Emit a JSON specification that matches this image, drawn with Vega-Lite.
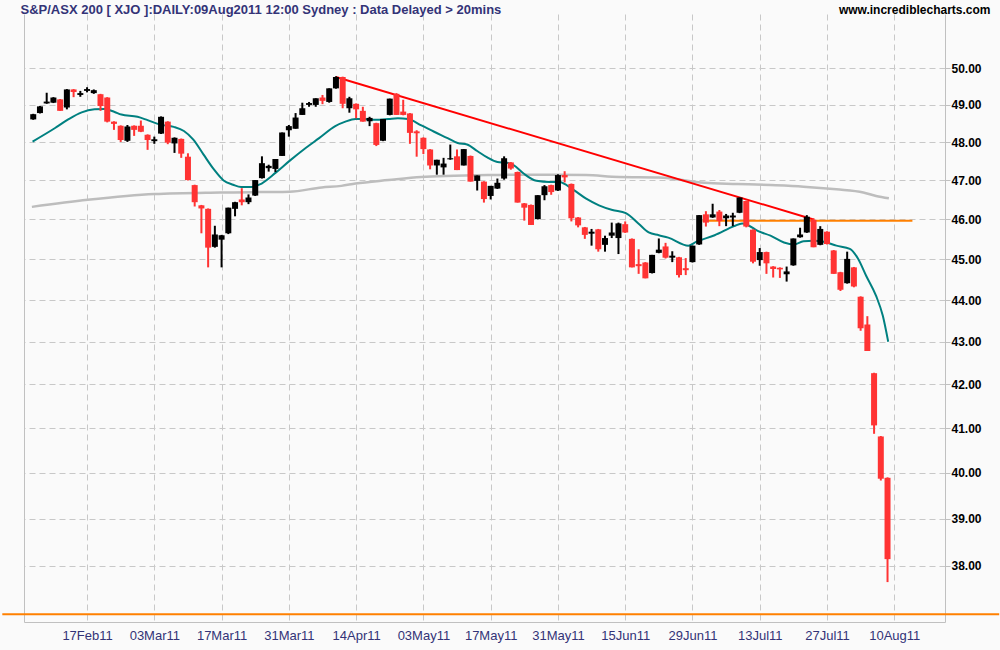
{
  "$schema": "https://vega.github.io/schema/vega-lite/v6.json",
  "width": 921,
  "height": 608,
  "autosize": {"type": "none"},
  "padding": {"left": 24, "top": 14, "right": 55, "bottom": 28},
  "background": "#fafafa",
  "config": {"view": {"stroke": null}},
  "resolve": {"axis": {"y": "independent"}},
  "datasets": {
    "candles": [
      {"i":0,"o":48.61,"h":48.76,"l":48.60,"c":48.75},
      {"i":1,"o":48.78,"h":48.97,"l":48.77,"c":48.96},
      {"i":2,"o":49.04,"h":49.33,"l":49.03,"c":49.09},
      {"i":3,"o":49.06,"h":49.21,"l":49.05,"c":49.20},
      {"i":4,"o":49.15,"h":49.16,"l":48.84,"c":48.84},
      {"i":5,"o":48.93,"h":49.43,"l":48.88,"c":49.42},
      {"i":6,"o":49.42,"h":49.43,"l":49.21,"c":49.35},
      {"i":7,"o":49.27,"h":49.38,"l":49.22,"c":49.32},
      {"i":8,"o":49.38,"h":49.48,"l":49.34,"c":49.43},
      {"i":9,"o":49.32,"h":49.42,"l":49.30,"c":49.40},
      {"i":10,"o":49.29,"h":49.30,"l":48.84,"c":48.97},
      {"i":11,"o":49.20,"h":49.21,"l":48.53,"c":48.55},
      {"i":12,"o":48.55,"h":48.56,"l":48.33,"c":48.49},
      {"i":13,"o":48.44,"h":48.45,"l":48.01,"c":48.06},
      {"i":14,"o":48.04,"h":48.46,"l":48.01,"c":48.42},
      {"i":15,"o":48.44,"h":48.45,"l":48.17,"c":48.33},
      {"i":16,"o":48.44,"h":48.58,"l":48.27,"c":48.28},
      {"i":17,"o":48.20,"h":48.21,"l":47.80,"c":48.06},
      {"i":18,"o":48.03,"h":48.15,"l":47.96,"c":48.08},
      {"i":19,"o":48.23,"h":48.69,"l":48.22,"c":48.68},
      {"i":20,"o":48.55,"h":48.56,"l":47.95,"c":47.99},
      {"i":21,"o":47.97,"h":48.13,"l":47.72,"c":48.12},
      {"i":22,"o":48.09,"h":48.10,"l":47.59,"c":47.70},
      {"i":23,"o":47.62,"h":47.71,"l":47.00,"c":47.01},
      {"i":24,"o":46.88,"h":46.89,"l":46.33,"c":46.44},
      {"i":25,"o":46.36,"h":46.37,"l":45.65,"c":46.28},
      {"i":26,"o":46.27,"h":46.28,"l":44.80,"c":45.29},
      {"i":27,"o":45.31,"h":45.84,"l":45.29,"c":45.62},
      {"i":28,"o":45.49,"h":45.61,"l":44.80,"c":45.60},
      {"i":29,"o":45.65,"h":46.30,"l":45.63,"c":46.30},
      {"i":30,"o":46.27,"h":46.45,"l":46.08,"c":46.44},
      {"i":31,"o":46.51,"h":46.80,"l":46.36,"c":46.44},
      {"i":32,"o":46.44,"h":46.64,"l":46.39,"c":46.56},
      {"i":33,"o":46.61,"h":47.01,"l":46.60,"c":47.01},
      {"i":34,"o":47.06,"h":47.63,"l":47.05,"c":47.45},
      {"i":35,"o":47.32,"h":47.41,"l":47.23,"c":47.38},
      {"i":36,"o":47.30,"h":47.56,"l":47.22,"c":47.56},
      {"i":37,"o":47.64,"h":48.26,"l":47.64,"c":48.26},
      {"i":38,"o":48.32,"h":48.46,"l":48.15,"c":48.43},
      {"i":39,"o":48.36,"h":48.78,"l":48.36,"c":48.66},
      {"i":40,"o":48.73,"h":49.06,"l":48.73,"c":48.91},
      {"i":41,"o":49.00,"h":49.08,"l":48.95,"c":49.05},
      {"i":42,"o":49.00,"h":49.18,"l":48.95,"c":49.18},
      {"i":43,"o":49.20,"h":49.27,"l":49.02,"c":49.11},
      {"i":44,"o":49.08,"h":49.45,"l":49.06,"c":49.45},
      {"i":45,"o":49.45,"h":49.78,"l":49.44,"c":49.76},
      {"i":46,"o":49.76,"h":49.77,"l":48.91,"c":49.03},
      {"i":47,"o":48.91,"h":49.22,"l":48.79,"c":49.18},
      {"i":48,"o":49.03,"h":49.04,"l":48.64,"c":48.88},
      {"i":49,"o":48.84,"h":48.95,"l":48.55,"c":48.55},
      {"i":50,"o":48.56,"h":48.68,"l":48.43,"c":48.65},
      {"i":51,"o":48.51,"h":48.52,"l":47.90,"c":47.93},
      {"i":52,"o":48.04,"h":48.62,"l":48.03,"c":48.62},
      {"i":53,"o":48.73,"h":49.17,"l":48.72,"c":49.17},
      {"i":54,"o":49.30,"h":49.32,"l":48.73,"c":48.73},
      {"i":55,"o":48.82,"h":49.14,"l":48.72,"c":48.73},
      {"i":56,"o":48.77,"h":48.78,"l":47.96,"c":48.25},
      {"i":57,"o":48.29,"h":48.32,"l":47.62,"c":48.24},
      {"i":58,"o":48.12,"h":48.13,"l":47.69,"c":47.82},
      {"i":59,"o":47.81,"h":47.82,"l":47.29,"c":47.39},
      {"i":60,"o":47.39,"h":47.54,"l":47.15,"c":47.54},
      {"i":61,"o":47.34,"h":47.59,"l":47.15,"c":47.44},
      {"i":62,"o":47.55,"h":47.94,"l":47.54,"c":47.58},
      {"i":63,"o":47.63,"h":47.81,"l":47.27,"c":47.27},
      {"i":64,"o":47.39,"h":47.82,"l":47.39,"c":47.82},
      {"i":65,"o":47.64,"h":47.65,"l":46.97,"c":46.97},
      {"i":66,"o":46.99,"h":47.13,"l":46.74,"c":47.13},
      {"i":67,"o":46.97,"h":46.98,"l":46.43,"c":46.52},
      {"i":68,"o":46.60,"h":46.86,"l":46.51,"c":46.86},
      {"i":69,"o":46.79,"h":47.05,"l":46.78,"c":46.94},
      {"i":70,"o":47.05,"h":47.63,"l":47.02,"c":47.58},
      {"i":71,"o":47.47,"h":47.48,"l":47.28,"c":47.31},
      {"i":72,"o":47.22,"h":47.23,"l":46.43,"c":46.43},
      {"i":73,"o":46.41,"h":46.42,"l":45.97,"c":46.30},
      {"i":74,"o":46.37,"h":46.38,"l":45.86,"c":45.86},
      {"i":75,"o":46.01,"h":46.62,"l":46.00,"c":46.62},
      {"i":76,"o":46.62,"h":46.88,"l":46.49,"c":46.85},
      {"i":77,"o":46.88,"h":46.89,"l":46.63,"c":46.70},
      {"i":78,"o":46.74,"h":47.16,"l":46.73,"c":47.14},
      {"i":79,"o":47.14,"h":47.24,"l":46.95,"c":47.08},
      {"i":80,"o":46.91,"h":46.92,"l":45.95,"c":46.03},
      {"i":81,"o":46.05,"h":46.06,"l":45.80,"c":45.85},
      {"i":82,"o":45.80,"h":45.81,"l":45.51,"c":45.61},
      {"i":83,"o":45.64,"h":45.76,"l":45.34,"c":45.69},
      {"i":84,"o":45.75,"h":45.76,"l":45.19,"c":45.25},
      {"i":85,"o":45.36,"h":45.59,"l":45.19,"c":45.53},
      {"i":86,"o":45.59,"h":45.92,"l":45.53,"c":45.67},
      {"i":87,"o":45.53,"h":45.92,"l":45.13,"c":45.90},
      {"i":88,"o":45.88,"h":45.95,"l":45.66,"c":45.67},
      {"i":89,"o":45.51,"h":45.52,"l":44.80,"c":44.80},
      {"i":90,"o":44.88,"h":45.25,"l":44.64,"c":44.83},
      {"i":91,"o":44.92,"h":44.93,"l":44.53,"c":44.53},
      {"i":92,"o":44.66,"h":45.11,"l":44.65,"c":45.11},
      {"i":93,"o":45.16,"h":45.52,"l":45.15,"c":45.24},
      {"i":94,"o":45.32,"h":45.41,"l":45.02,"c":45.04},
      {"i":95,"o":45.04,"h":45.20,"l":44.93,"c":45.09},
      {"i":96,"o":45.05,"h":45.06,"l":44.55,"c":44.61},
      {"i":97,"o":44.78,"h":45.03,"l":44.61,"c":44.73},
      {"i":98,"o":44.93,"h":45.34,"l":44.92,"c":45.34},
      {"i":99,"o":45.37,"h":46.11,"l":45.36,"c":46.11},
      {"i":100,"o":46.13,"h":46.21,"l":45.82,"c":45.92},
      {"i":101,"o":46.05,"h":46.40,"l":46.04,"c":46.13},
      {"i":102,"o":46.20,"h":46.24,"l":45.83,"c":45.96},
      {"i":103,"o":46.03,"h":46.14,"l":45.83,"c":46.10},
      {"i":104,"o":46.05,"h":46.17,"l":45.83,"c":46.10},
      {"i":105,"o":46.17,"h":46.56,"l":46.16,"c":46.56},
      {"i":106,"o":46.47,"h":46.48,"l":45.80,"c":45.82},
      {"i":107,"o":45.74,"h":45.75,"l":44.90,"c":44.94},
      {"i":108,"o":44.98,"h":45.28,"l":44.84,"c":45.18},
      {"i":109,"o":45.18,"h":45.19,"l":44.64,"c":44.90},
      {"i":110,"o":44.82,"h":44.83,"l":44.55,"c":44.76},
      {"i":111,"o":44.79,"h":44.80,"l":44.54,"c":44.75},
      {"i":112,"o":44.63,"h":44.82,"l":44.45,"c":44.70},
      {"i":113,"o":44.85,"h":45.52,"l":44.84,"c":45.52},
      {"i":114,"o":45.55,"h":45.79,"l":45.54,"c":45.62},
      {"i":115,"o":45.67,"h":46.11,"l":45.66,"c":46.07},
      {"i":116,"o":45.99,"h":46.03,"l":45.30,"c":45.30},
      {"i":117,"o":45.36,"h":45.83,"l":45.35,"c":45.76},
      {"i":118,"o":45.69,"h":45.70,"l":45.37,"c":45.38},
      {"i":119,"o":45.22,"h":45.23,"l":44.64,"c":44.64},
      {"i":120,"o":44.68,"h":44.69,"l":44.22,"c":44.25},
      {"i":121,"o":44.41,"h":45.19,"l":44.40,"c":45.01},
      {"i":122,"o":44.80,"h":44.81,"l":44.31,"c":44.33},
      {"i":123,"o":44.08,"h":44.09,"l":43.26,"c":43.32},
      {"i":124,"o":43.41,"h":43.61,"l":42.78,"c":42.78},
      {"i":125,"o":42.26,"h":42.27,"l":40.87,"c":41.06},
      {"i":126,"o":40.81,"h":40.82,"l":39.83,"c":39.87},
      {"i":127,"o":39.89,"h":39.90,"l":37.66,"c":38.14}
    ],
    "ema": [
      {"i":-0.1,"v":48.02},{"i":3.25,"v":48.38},{"i":5.2,"v":48.61},{"i":7.2,"v":48.80},
      {"i":9.1,"v":48.88},{"i":10.6,"v":48.89},{"i":12.1,"v":48.81},{"i":13.1,"v":48.74},
      {"i":15.5,"v":48.68},{"i":17.0,"v":48.59},{"i":18.9,"v":48.47},{"i":20.9,"v":48.41},
      {"i":22.4,"v":48.30},{"i":23.8,"v":48.07},{"i":25.3,"v":47.68},{"i":26.8,"v":47.30},
      {"i":28.3,"v":47.00},{"i":29.7,"v":46.89},{"i":30.9,"v":46.83},{"i":32.4,"v":46.83},
      {"i":33.6,"v":46.89},{"i":36.1,"v":47.21},{"i":38.1,"v":47.51},{"i":40.5,"v":47.85},
      {"i":42.5,"v":48.11},{"i":44.9,"v":48.43},{"i":46.4,"v":48.55},{"i":47.9,"v":48.62},
      {"i":49.3,"v":48.62},{"i":50.8,"v":48.60},{"i":52.8,"v":48.62},{"i":54.2,"v":48.64},
      {"i":55.7,"v":48.62},{"i":57.7,"v":48.45},{"i":59.6,"v":48.28},{"i":61.6,"v":48.11},
      {"i":63.1,"v":47.98},{"i":64.5,"v":47.94},{"i":66.0,"v":47.77},{"i":67.5,"v":47.60},
      {"i":69.0,"v":47.48},{"i":70.4,"v":47.46},{"i":71.4,"v":47.40},{"i":72.9,"v":47.18},
      {"i":74.8,"v":46.99},{"i":76.8,"v":46.96},{"i":78.2,"v":46.96},{"i":80.2,"v":46.77},
      {"i":82.2,"v":46.53},{"i":84.1,"v":46.36},{"i":86.1,"v":46.24},{"i":88.1,"v":46.16},
      {"i":90.0,"v":45.89},{"i":91.5,"v":45.67},{"i":93.0,"v":45.60},{"i":94.4,"v":45.54},
      {"i":97.4,"v":45.34},{"i":98.6,"v":45.44},{"i":101.3,"v":45.60},{"i":104.2,"v":45.83},
      {"i":105.4,"v":45.90},{"i":106.2,"v":45.86},{"i":107.7,"v":45.71},{"i":109.6,"v":45.59},
      {"i":111.6,"v":45.42},{"i":113.1,"v":45.37},{"i":114.5,"v":45.45},{"i":116.0,"v":45.46},
      {"i":117.5,"v":45.44},{"i":119.4,"v":45.34},{"i":121.4,"v":45.26},{"i":122.6,"v":45.02},
      {"i":123.8,"v":44.60},{"i":125.3,"v":44.10},{"i":126.3,"v":43.62},{"i":127.1,"v":43.00}
    ],
    "ma": [
      {"i":-0.2,"v":46.32},{"i":8.1,"v":46.50},{"i":18.0,"v":46.65},{"i":27.8,"v":46.69},
      {"i":38.1,"v":46.71},{"i":42.9,"v":46.82},{"i":45.8,"v":46.86},{"i":47.9,"v":46.92},
      {"i":52.8,"v":47.01},{"i":57.7,"v":47.09},{"i":62.6,"v":47.12},{"i":67.5,"v":47.14},
      {"i":72.4,"v":47.15},{"i":77.3,"v":47.15},{"i":82.2,"v":47.14},{"i":87.1,"v":47.09},
      {"i":93.0,"v":47.08},{"i":99.8,"v":46.94},{"i":104.7,"v":46.91},{"i":109.6,"v":46.88},
      {"i":114.5,"v":46.84},{"i":119.4,"v":46.77},{"i":123.4,"v":46.69},{"i":125.3,"v":46.60},
      {"i":127.2,"v":46.54}
    ],
    "trend": [{"i":45,"v":49.76},{"i":116,"v":46.0}],
    "hline": [{"i":99.5,"i2":130.7,"v":45.97}],
    "baseline": [{"i":-4.6,"i2":143.6,"v":37.0}]
  },
  "encoding": {
    "x": {
      "field": "i", "type": "quantitative",
      "scale": {"domain": [-0.63, 134.8], "nice": false, "zero": false},
      "axis": {
        "title": null,
        "values": [8,18,28,38,48,58,68,78,88,98,108,118,128],
        "labelExpr": "['17Feb11','03Mar11','17Mar11','31Mar11','14Apr11','03May11','17May11','31May11','15Jun11','29Jun11','13Jul11','27Jul11','10Aug11'][round((datum.value-8)/10)]",
        "domain": true, "domainColor": "#c0c0c0", "domainWidth": 1, "ticks": false,
        "grid": true, "gridColor": "#c8c8c8", "gridDash": [6, 4], "gridWidth": 1,
        "labelFont": "Liberation Sans", "labelFontSize": 13, "labelColor": "#333377",
        "labelPadding": 7, "labelFlush": false
      }
    }
  },
  "layer": [
    {
      "data": {"name": "ma"},
      "mark": {"type": "line", "color": "#bdbdbd", "strokeWidth": 2.5, "interpolate": "monotone"},
      "encoding": {
        "y": {
          "field": "v", "type": "quantitative",
          "scale": {"type": "log", "domain": [36.84, 51.52], "nice": false, "zero": false},
          "axis": {
            "orient": "right", "title": "www.incrediblecharts.com",
            "titleAngle": 0, "titleAlign": "right", "titleBaseline": "middle",
            "titleX": 45, "titleY": -5,
            "titleFont": "Liberation Sans", "titleFontSize": 12, "titleFontWeight": "bold", "titleColor": "#000000",
            "values": [38,39,40,41,42,43,44,45,46,47,48,49,50],
            "format": ".2f", "domain": true, "domainColor": "#c0c0c0", "domainWidth": 1,
            "ticks": true, "tickColor": "#c0c0c0", "tickSize": 5,
            "grid": true, "gridColor": "#c8c8c8", "gridDash": [6, 4], "gridWidth": 1,
            "labelFont": "Liberation Sans", "labelFontSize": 12, "labelFontWeight": "bold",
            "labelColor": "#000000", "labelPadding": 1
          }
        }
      }
    },
    {
      "data": {"name": "ema"},
      "mark": {"type": "line", "color": "#008080", "strokeWidth": 2, "interpolate": "monotone"},
      "encoding": {
        "y": {
          "field": "v", "type": "quantitative",
          "axis": {
            "orient": "left", "labels": false, "ticks": false, "grid": false,
            "domain": true, "domainColor": "#c0c0c0", "domainWidth": 1,
            "title": "S&P/ASX 200 [ XJO ]:DAILY:09Aug2011 12:00 Sydney : Data Delayed > 20mins",
            "titleAngle": 0, "titleAlign": "left", "titleBaseline": "middle",
            "titleX": -4, "titleY": -5,
            "titleFont": "Liberation Sans", "titleFontSize": 13, "titleFontWeight": "bold", "titleColor": "#333377"
          }
        }
      }
    },
    {
      "data": {"name": "trend"},
      "mark": {"type": "line", "color": "#ff0000", "strokeWidth": 2},
      "encoding": {"y": {"field": "v", "type": "quantitative", "axis": null}}
    },
    {
      "data": {"name": "hline"},
      "mark": {"type": "rule", "color": "#ff8000", "strokeWidth": 2},
      "encoding": {"x2": {"field": "i2"}, "y": {"field": "v", "type": "quantitative", "axis": null}}
    },
    {
      "data": {"name": "baseline"},
      "mark": {"type": "rule", "color": "#ff8000", "strokeWidth": 2, "clip": false},
      "encoding": {"x2": {"field": "i2"}, "y": {"field": "v", "type": "quantitative", "axis": null}}
    },
    {
      "data": {"name": "candles"},
      "mark": {"type": "rule", "strokeWidth": 2},
      "encoding": {
        "y": {"field": "l", "type": "quantitative", "axis": null},
        "y2": {"field": "h"},
        "color": {"condition": {"test": "datum.c >= datum.o", "value": "#000000"}, "value": "#ff3333"}
      }
    },
    {
      "data": {"name": "candles"},
      "mark": {"type": "bar", "width": 6},
      "encoding": {
        "y": {"field": "o", "type": "quantitative", "axis": null},
        "y2": {"field": "c"},
        "color": {"condition": {"test": "datum.c >= datum.o", "value": "#000000"}, "value": "#ff3333"}
      }
    }
  ]
}
